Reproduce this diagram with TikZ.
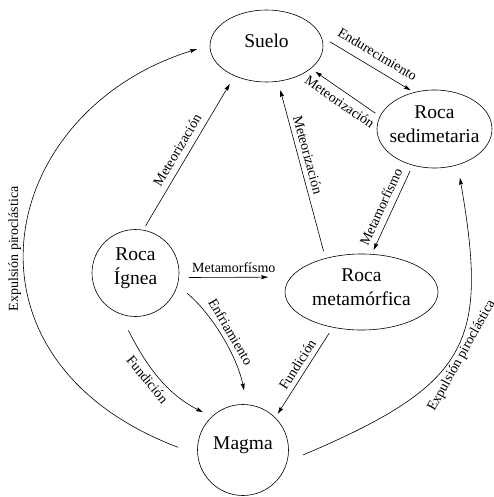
\documentclass[tikz,border=0pt]{standalone}
\usepackage{fontspec}
\setmainfont{Liberation Serif}
\usetikzlibrary{arrows.meta,shapes.geometric}
\begin{document}
\begin{tikzpicture}[x=1pt,y=-1pt,
  every node/.style={inner sep=0pt,outer sep=0pt},
  rock/.style={draw,line width=0.6pt},
  ell/.style={rock,ellipse},
  circ/.style={rock,circle},
  nodetxt/.style={font=\fontsize{19.5}{24}\selectfont,align=center,yshift=5pt},
  lab/.style={font=\fontsize{14}{16}\selectfont,inner sep=3pt,sloped},
  labr/.style={font=\fontsize{14}{16}\selectfont,inner sep=3pt},
  arr/.style={line width=0.6pt,-{Stealth[length=7pt,width=4pt,inset=1pt]}}
]
\useasboundingbox (0,0) rectangle (493,497);

% rocks
\node[ell,minimum width=113pt,minimum height=72pt] (suelo) at (266.5,46) {};
\node[ell,minimum width=115pt,minimum height=78pt] (sed) at (434.5,129) {};
\node[circ,minimum size=87pt] (ignea) at (135.5,273) {};
\node[ell,minimum width=153pt,minimum height=76pt] (meta) at (361.5,292) {};
\node[circ,minimum size=91pt] (magma) at (243,450) {};

\node[nodetxt] (suelo-t) at (suelo.center) {Suelo};
\node[nodetxt] (sed-t) at (sed.center) {Roca\\sedimetaria};
\node[nodetxt] (ignea-t) at (ignea.center) {Roca\\Ígnea};
\node[nodetxt] (meta-t) at (meta.center) {Roca\\metamórfica};
\node[nodetxt] (magma-t) at (magma.center) {Magma};

% straight connectors
\draw[arr,shorten <=5pt,shorten >=9.5pt] (ignea.80) -- node[lab,above=3.5pt,pos=.48] {Meteorización} (suelo.223);
\draw[arr,shorten <=7.5pt,shorten >=9pt] (meta.137) -- node[lab,above=2pt,pos=.57] {Meteorización} (suelo.-72);
\draw[arr,shorten <=10.5pt,shorten >=4.2pt] (suelo.10) -- node[lab,above=6pt,pos=.53] {Endurecimiento} (sed.119);
\draw[arr,shorten <=5.7pt,shorten >=5.7pt] (sed.167) -- node[lab,below=3pt,pos=.49] {Meteorización} (suelo.-27);
\draw[arr,shorten <=6.3pt,shorten >=4.8pt] (sed.239) -- node[lab,above=3.5pt,pos=.52] {Metamorfísmo} (meta.75);
\draw[arr,shorten <=10pt,shorten >=23pt] (ignea.-6) -- node[lab,above=2pt,pos=.49] {Metamorfísmo} (meta.168);
\draw[arr,shorten <=6.8pt,shorten >=4.8pt] (meta.231) -- node[lab,above=2pt,pos=.47] {Fundición} (magma.45);

% curved connectors
\draw[arr,shorten <=12.6pt,shorten >=14.6pt] (ignea.-16) .. controls (211.8,313.9) and (237,355.7) .. node[lab,above=3pt,pos=.5] {Enfriamiento} (magma.85);
\draw[arr,shorten <=19pt,shorten >=10pt] (ignea.249) .. controls (142.4,358.1) and (162.8,392.1) .. node[lab,below=3pt,pos=.5] {Fundición} (magma.133);
\draw[arr,shorten <=21pt,shorten >=13.7pt] (magma.186) .. controls (-54.9,359.1) and (-4.2,111.4) .. node[labr,rotate=90,above=4pt,pos=.48] {Expulsión piroclástica} (suelo.179);
\draw[arr,shorten <=17.5pt,shorten >=13.3pt] (magma.-15) .. controls (470.9,383.8) and (488.3,342.4) .. node[lab,below=1pt,pos=.5] {Expulsión piroclástica} (sed.-57);
\end{tikzpicture}
\end{document}
